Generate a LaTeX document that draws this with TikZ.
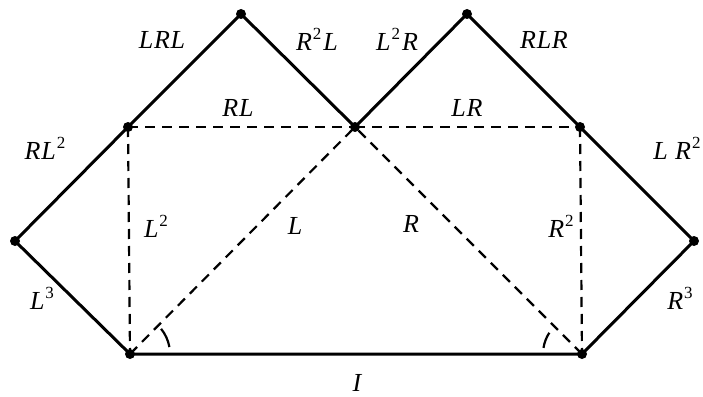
\documentclass[tikz,border=0pt]{standalone}
\usepackage{fontspec}
\setmainfont{Liberation Serif}
\newfontfamily\labfont[LetterSpace=3]{Liberation Serif}
\newcommand\sqp[1]{\hspace{1pt}\raisebox{0.42em}{\fontsize{17}{17}\selectfont\upshape #1}\hspace{2pt}}
\begin{document}
\begin{tikzpicture}[x=1pt,y=-1pt,
  edge/.style={line width=3pt},
  dedge/.style={line width=2.2pt,dash pattern=on 10pt off 7pt},
  vtx/.style={circle,fill=black,inner sep=0pt,minimum size=10pt},
  lab/.style={font=\labfont\fontsize{26}{28}\selectfont\itshape,inner sep=0pt},
  ang/.style={line width=2.2pt}]
\useasboundingbox (0,0) rectangle (703,396);
\node[vtx] (BL) at (130,354) {};
\node[vtx] (BR) at (582,354) {};
\node[vtx] (TL) at (128,127) {};
\node[vtx] (TC) at (355,127) {};
\node[vtx] (TR) at (580,127) {};
\node[vtx] (LA) at (15,241) {};
\node[vtx] (RA) at (694,241) {};
\node[vtx] (P1) at (241,14) {};
\node[vtx] (P2) at (467,14) {};
% solid edges
\draw[edge] (BL.center) -- (LA.center) -- (TL.center) -- (P1.center) -- (TC.center) -- (P2.center) -- (TR.center) -- (RA.center) -- (BR.center) -- (BL.center);
% dashed
\draw[dedge] (TL.center) -- (TC.center);
\draw[dedge] (TC.center) -- (TR.center);
\draw[dedge] (TL.center) -- (BL.center);
\draw[dedge] (TR.center) -- (BR.center);
\draw[dedge] (BL.center) -- (TC.center);
\draw[dedge] (BR.center) -- (TC.center);
% angle arcs
\draw[ang] (BL.center) ++(-10:40) arc[start angle=-10,end angle=-39,radius=40];
\draw[ang] (BR.center) ++(189:39) arc[start angle=189,end angle=213,radius=39];
% labels
\node[lab] (lLRL) at (162,40) {LRL};
\node[lab] (lR2L) at (317,39) {R\sqp{2}L};
\node[lab] (lL2R) at (397,39) {L\sqp{2}R};
\node[lab] (lRLR) at (544,40) {RLR};
\node[lab] (lRL) at (238,108) {RL};
\node[lab] (lLR) at (467,108) {LR};
\node[lab] (lRL2) at (45,148) {RL\sqp{2}};
\node[lab] (lLR2) at (677,148) {L R\sqp{2}};
\node[lab] (lL2) at (156,226) {L\sqp{2}};
\node[lab] (lL) at (295,226) {L};
\node[lab] (lR) at (411,224) {R};
\node[lab] (lR2) at (561,226) {R\sqp{2}};
\node[lab] (lL3) at (42,298) {L\sqp{3}};
\node[lab] (lR3) at (680,298) {R\sqp{3}};
\node[lab] (lI) at (357,383) {I};
\end{tikzpicture}
\end{document}
